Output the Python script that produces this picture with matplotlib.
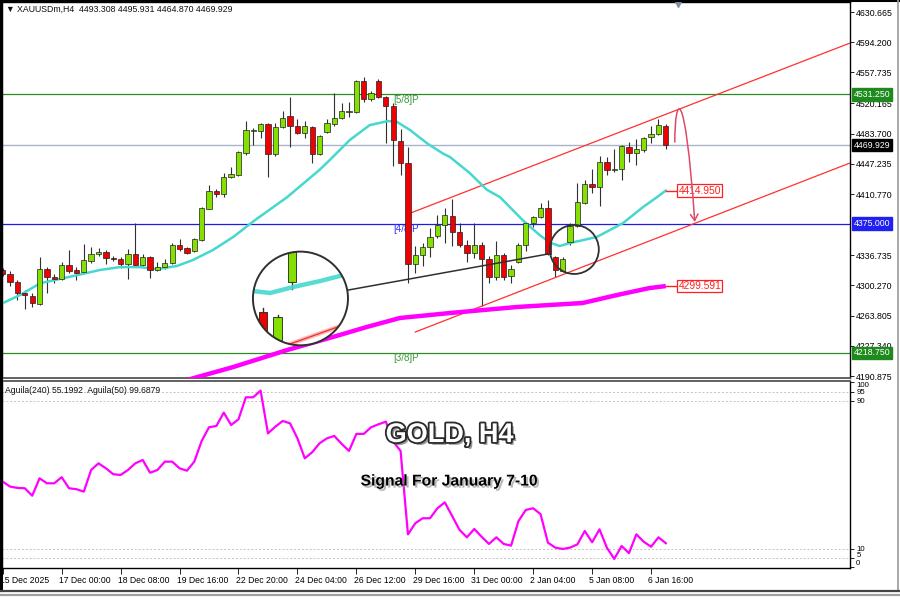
import numpy as np
import matplotlib
matplotlib.use('Agg')
import matplotlib.pyplot as plt
import matplotlib.patheffects as pe
import matplotlib.transforms as mtransforms
from matplotlib.patches import Rectangle, Ellipse, FancyArrowPatch
from matplotlib.path import Path
from matplotlib.lines import Line2D

plt.rcParams['font.family'] = ['Liberation Sans', 'DejaVu Sans']

# ---- H4 candles ----
opens = [4318.9, 4314.1, 4304.5, 4291.2, 4287.6, 4277.9, 4320.2, 4310.5, 4308.1, 4325.0,
         4318.9, 4316.5, 4329.9, 4338.3, 4340.7, 4333.5, 4332.3, 4326.2, 4338.3, 4325.0,
         4334.7, 4318.9, 4322.6, 4327.4, 4349.2, 4345.6, 4341.9, 4355.2, 4392.7, 4414.4,
         4410.8, 4431.3, 4433.7, 4460.3, 4486.9, 4486.9, 4495.4, 4459.1, 4491.8, 4505.0,
         4492.9, 4484.5, 4491.8, 4459.1, 4485.7, 4495.4, 4502.6, 4509.9, 4509.9, 4547.3,
         4525.6, 4547.3, 4528.0, 4517.1, 4474.8, 4448.2, 4326.2, 4337.1, 4346.8, 4360.1,
         4373.4, 4384.2, 4364.9, 4349.2, 4339.5, 4349.2, 4332.3, 4310.5, 4337.1, 4311.7,
         4328.6, 4349.2, 4375.7, 4383.0, 4393.9, 4334.7, 4317.7, 4352.8, 4372.1, 4399.9,
         4422.9, 4419.3, 4449.5, 4439.8, 4441.0, 4467.6, 4460.3, 4464.0, 4479.7, 4483.3,
         4493.308]
highs = [4321.4, 4317.7, 4306.9, 4294.8, 4291.2, 4334.7, 4322.6, 4314.1, 4328.6, 4343.1,
         4322.6, 4350.4, 4346.8, 4345.6, 4343.1, 4335.9, 4334.7, 4344.4, 4375.7, 4338.3,
         4335.9, 4328.6, 4332.3, 4351.6, 4356.4, 4346.8, 4357.6, 4395.1, 4421.7, 4416.8,
         4436.2, 4443.4, 4462.5, 4499.0, 4490.5, 4496.6, 4496.6, 4496.6, 4511.1, 4528.0,
         4501.4, 4499.0, 4492.9, 4482.1, 4501.4, 4532.8, 4520.7, 4521.9, 4548.5, 4552.2,
         4535.2, 4549.8, 4529.2, 4520.7, 4489.3, 4467.6, 4347.9, 4351.6, 4369.7, 4385.4,
         4393.9, 4404.8, 4375.7, 4355.2, 4375.7, 4352.8, 4335.9, 4354.0, 4339.5, 4325.0,
         4351.6, 4376.5, 4384.2, 4399.9, 4403.5, 4335.9, 4334.7, 4375.7, 4424.1, 4427.7,
         4441.0, 4456.7, 4455.5, 4465.2, 4470.0, 4473.6, 4477.3, 4479.7, 4492.9, 4501.4,
         4495.931]
lows = [4311.7, 4299.6, 4282.7, 4271.8, 4274.3, 4276.5, 4291.2, 4303.3, 4306.9, 4315.3,
        4306.9, 4315.3, 4327.4, 4335.9, 4326.2, 4329.9, 4321.4, 4308.1, 4322.6, 4323.8,
        4309.3, 4317.7, 4320.2, 4326.8, 4341.9, 4338.3, 4340.7, 4354.0, 4392.1, 4407.2,
        4407.2, 4430.1, 4432.5, 4457.9, 4470.0, 4478.5, 4431.3, 4456.7, 4490.5, 4467.6,
        4483.3, 4478.5, 4448.3, 4457.9, 4484.5, 4492.9, 4501.4, 4503.8, 4508.7, 4522.0,
        4523.2, 4526.8, 4472.4, 4444.6, 4433.7, 4303.3, 4315.3, 4323.8, 4334.7, 4357.6,
        4351.6, 4348.0, 4346.8, 4328.6, 4333.5, 4275.5, 4303.3, 4306.9, 4306.9, 4303.3,
        4327.4, 4341.9, 4370.9, 4382.4, 4337.1, 4310.5, 4316.5, 4349.2, 4370.9, 4399.3,
        4412.0, 4396.3, 4433.7, 4437.4, 4427.7, 4449.5, 4445.9, 4461.6, 4472.4, 4482.1,
        4464.870]
closes = [4314.1, 4304.5, 4291.2, 4288.8, 4279.1, 4320.2, 4310.5, 4308.1, 4325.0, 4317.7,
          4315.3, 4331.0, 4338.3, 4340.7, 4333.5, 4331.7, 4326.2, 4338.3, 4325.0, 4334.7,
          4318.9, 4322.6, 4327.4, 4349.2, 4344.4, 4339.5, 4356.4, 4393.9, 4414.4, 4410.8,
          4431.3, 4434.9, 4461.6, 4488.1, 4488.1, 4495.4, 4459.1, 4491.8, 4502.6, 4492.9,
          4484.5, 4492.9, 4459.1, 4480.9, 4496.6, 4502.6, 4511.1, 4511.1, 4547.3, 4525.6,
          4532.8, 4528.0, 4517.1, 4476.0, 4448.2, 4326.2, 4337.1, 4346.8, 4358.8, 4373.4,
          4385.4, 4364.9, 4349.2, 4339.5, 4349.2, 4332.3, 4310.5, 4337.1, 4310.5, 4320.2,
          4349.2, 4375.7, 4383.0, 4393.9, 4338.3, 4318.9, 4332.3, 4372.1, 4401.1, 4422.9,
          4419.3, 4449.5, 4439.8, 4441.0, 4468.8, 4460.3, 4465.2, 4478.5, 4483.3, 4494.2,
          4469.929]

# moving averages (bar position, value)
ma_fast_x = [0, 2.4, 5.1, 8.7, 13.2, 15.9, 18.6, 21, 23.7, 25.8, 28.5, 31.3, 34.2, 38.6,
             43, 44.4, 47.1, 49.8, 52.3, 53.5, 55.3, 57.6, 59.7, 60.7, 63.4, 65.7, 67.5,
             70.6, 72.9, 74.3, 75.6, 77, 80.6, 84.2, 86.9, 88.8, 90]
ma_fast_y = [4279, 4289, 4303, 4310, 4319, 4322.5, 4322.5, 4320, 4324, 4331, 4343, 4359,
             4379, 4407, 4440, 4452, 4476, 4494, 4499, 4498, 4488, 4472, 4460, 4455.5,
             4436, 4416, 4407, 4379, 4361, 4352, 4348, 4351.6, 4358.8, 4375.7, 4395,
             4407, 4414.95]
ma_slow_x = [22.7, 25, 31.3, 38.6, 44.8, 49.4, 53.9, 60.7, 69.8, 78.7, 83.4, 87.8, 90]
ma_slow_y = [4180, 4186.1, 4201.8, 4222.3, 4238, 4250.1, 4261, 4267, 4274.3, 4279.1,
             4288.8, 4297.2, 4299.591]

# Aguila oscillator, one value per bar
aguila = [46.4, 43.7, 43.0, 42.8, 38.8, 48.2, 45.5, 45.5, 48.8, 42.8,
          42.3, 41.0, 52.7, 56.3, 53.6, 50.4, 50.0, 52.7, 56.3, 58.1,
          51.2, 52.7, 57.2, 57.2, 53.6, 52.3, 57.2, 68.4, 75.8, 76.5,
          83.7, 77.0, 80.1, 92.0, 92.0, 95.6, 72.5, 76.1, 79.2, 77.9,
          69.8, 59.0, 62.3, 67.1, 69.8, 71.1, 66.8, 63.0, 72.2, 72.2,
          75.8, 77.4, 78.8, 68.0, 63.0, 17.9, 23.9, 26.6, 26.6, 32.0,
          35.2, 27.8, 20.3, 16.3, 20.8, 16.6, 12.7, 16.3, 12.7, 11.8,
          25.1, 31.1, 32.0, 28.8, 13.4, 10.7, 10.0, 10.7, 12.5, 19.7,
          13.6, 20.6, 10.7, 4.6, 11.6, 7.7, 17.9, 13.9, 11.2, 16.3, 13.1]

price_ticks = [4630.665, 4594.200, 4557.735, 4520.165, 4483.700, 4447.235, 4410.770,
               4336.735, 4300.270, 4263.805, 4227.340, 4190.875]
date_pos = [0, 8, 16, 24, 32, 40, 48, 56, 64, 72, 80, 88]
date_labels = ['15 Dec 2025', '17 Dec 00:00', '18 Dec 08:00', '19 Dec 16:00',
               '22 Dec 20:00', '24 Dec 04:00', '26 Dec 12:00', '29 Dec 16:00',
               '31 Dec 00:00', '2 Jan 04:00', '5 Jan 08:00', '6 Jan 16:00']

# Murrey levels and channel
lvl_58, lvl_48, lvl_38 = 4531.25, 4375.0, 4218.75
last_price = 4469.929
chan_up = ([55, 115], [4386.6, 4593.2])
chan_lo = ([56, 115], [4244.1, 4448.3])

GREEN = '#84E000'
RED = '#F00000'
CYAN = '#45D8CF'
MAGENTA = '#FF00FF'

W, H = 900, 599
fig = plt.figure(figsize=(9, 5.99), dpi=100)


def px_box(x0, y0, x1, y1):
    return [x0 / W, 1 - y1 / H, (x1 - x0) / W, (y1 - y0) / H]


ax = fig.add_axes(px_box(2, 2, 850, 378))
ax2 = fig.add_axes(px_box(2, 381, 850, 568), sharex=ax)

o, h, l, c = map(np.array, (opens, highs, lows, closes))
idx = np.arange(len(c))
up = c >= o

# candles
ax.vlines(idx, l, h, color='#303030', lw=0.8, zorder=3)
body = np.maximum(np.abs(c - o), 0.6)
ax.bar(idx, body, bottom=np.minimum(o, c), width=0.72,
       color=np.where(up, GREEN, RED), edgecolor='#202020', linewidth=0.5, zorder=4)

# MAs
ax.plot(ma_fast_x, ma_fast_y, color=CYAN, lw=1.8, zorder=3.5)
ax.plot(ma_slow_x, ma_slow_y, color=MAGENTA, lw=3.2, zorder=3.5, solid_capstyle='butt')

# horizontal levels
ax.axhline(lvl_58, color='#2E8B22', lw=0.9, zorder=2)
ax.axhline(last_price, color='#A9B4C8', lw=1.0, zorder=2)
ax.axhline(lvl_48, color='#1C1CE8', lw=0.9, zorder=2)
ax.axhline(lvl_38, color='#2E8B22', lw=0.9, zorder=2)
ax.text(53, 4524.4, '[5/8]P', color='#3A9A3A', fontsize=7, va='center', zorder=2)
ax.text(53, 4368.5, '[4/8]P', color='#3030FF', fontsize=7, va='center', zorder=2)
ax.text(53, 4212.5, '[3/8]P', color='#3A9A3A', fontsize=7, va='center', zorder=2)

# channel
ax.plot(*chan_up, color='#FF3030', lw=0.9, zorder=3)
ax.plot(*chan_lo, color='#FF3030', lw=0.9, zorder=3)

# line-end labels
for val, txt in [(ma_fast_y[-1], '4414.950'), (ma_slow_y[-1], '4299.591')]:
    ax.plot([90, 91.6], [val, val], color='#FF2020', lw=1.0, zorder=5)
    ax.text(91.7, val, txt, color='#FF2020', fontsize=7.4, va='center', ha='left', zorder=6,
            bbox=dict(boxstyle='square,pad=0.12', fc='white', ec='#FF2020', lw=0.9))

# curved arrow
arc = Path([(91.22, 4473.6), (91.22, 4530.4), (92.58, 4548.5), (93.93, 4377.0)],
           [Path.MOVETO, Path.CURVE4, Path.CURVE4, Path.CURVE4])
ax.add_patch(FancyArrowPatch(path=arc, arrowstyle='->,head_length=0.5,head_width=0.3',
                             mutation_scale=9, color='#E04A68', lw=1.1, zorder=7))

# magnifier
big = Ellipse((40.41, 4284.6), 12.9, 113.2, fc='white', ec='none', zorder=6)
ax.add_patch(big)
inner = []
inner.append(ax.add_patch(Rectangle((39.25 - 0.55, 4304.5), 1.1, 60, fc=GREEN, ec='#202020', lw=0.6, zorder=7)))
inner += ax.plot([39.25, 39.25], [4296.0, 4304.5], color='#303030', lw=1.0, zorder=7)
inner.append(ax.add_patch(Rectangle((35.3 - 0.55, 4245.3), 1.1, 22.9, fc=RED, ec='#202020', lw=0.6, zorder=7)))
inner += ax.plot([35.3, 35.3], [4268.2, 4273.1], color='#303030', lw=1.0, zorder=7)
inner.append(ax.add_patch(Rectangle((37.3 - 0.55, 4234.4), 1.1, 27.8, fc=GREEN, ec='#202020', lw=0.6, zorder=7)))
inner += ax.plot([37.3, 37.3], [4262.2, 4264.6], color='#303030', lw=1.0, zorder=7)
inner += ax.plot([34.0, 36.3, 39.4, 43.1, 47.0], [4293.5, 4291.2, 4298.4, 4305.7, 4314.6],
                 color=CYAN, lw=3.2, zorder=7, alpha=0.9)
inner += ax.plot([39.0, 45.6], [4229.6, 4250.6], color='#FFB4B4', lw=3, zorder=7)
inner += ax.plot([39.0, 45.6], [4229.6, 4250.6], color='#F03030', lw=0.9, zorder=7)
for art in inner:
    art.set_clip_path(big)
ax.add_patch(Ellipse((40.41, 4284.6), 12.9, 113.2, fill=False, ec='#303030', lw=1.4, zorder=8))
ax.plot([46.9, 74.0], [4294.8, 4338.3], color='#303030', lw=1.1, zorder=5)
ax.add_patch(Ellipse((77.58, 4343.8), 6.65, 59.2, fill=False, ec='#303030', lw=1.3, zorder=8))

ax.text(0.005, 0.981, '\u25bc XAUUSDm,H4  4493.308 4495.931 4464.870 4469.929',
        transform=ax.transAxes, fontsize=6.3, va='center', ha='left', color='#111')
ax.plot([91.6], [4640.5], marker='v', ms=5, color='#8090A0', clip_on=False, zorder=9)

# axes ranges / ticks
ax.set_xlim(-0.1, 115)
ax.set_ylim(4188.5, 4642.8)
ax.yaxis.tick_right()
ax.set_yticks(price_ticks)
ax.set_yticklabels([f'{v:.3f}' for v in price_ticks])
ax.tick_params(axis='y', length=3, width=0.6, pad=1.5, labelsize=6.3, direction='out')
ax.tick_params(axis='x', bottom=False, labelbottom=False)
for s in ['top', 'left', 'right']:
    ax.spines[s].set_color('black')
    ax.spines[s].set_linewidth(1.0)
ax.spines['bottom'].set_color('#555')
ax.spines['bottom'].set_linewidth(1.3)

tag_tf = mtransforms.blended_transform_factory(ax.transAxes, ax.transData)
for val, bg in [(lvl_58, '#1E8A1E'), (last_price, 'black'), (lvl_48, '#2020F0'), (lvl_38, '#1E8A1E')]:
    ax.text(1.004, val, f'{val:.3f}', transform=tag_tf, ha='left', va='center', fontsize=6.3,
            color='white', clip_on=False, zorder=10,
            bbox=dict(boxstyle='square,pad=0.2', fc=bg, ec=bg))

# indicator panel
for v in [95, 90, 10, 5]:
    ax2.axhline(v, color='#C4C4C4', lw=0.7, ls=(0, (2, 2)), zorder=1)
ax2.plot(idx, aguila, color=MAGENTA, lw=1.6, zorder=3)
ax2.set_ylim(-0.3, 100.8)
ax2.yaxis.tick_right()
ax2.set_yticks([100, 95, 90, 10, 5, 0])
ax2.set_yticklabels(['100', '95', '90', '10', '5', '0'])
ax2.tick_params(axis='y', length=3, width=0.6, pad=1.5, labelsize=5.6, direction='out')
ylabs = ax2.get_yticklabels()
ylabs[0].set_va('top')
up2 = mtransforms.ScaledTranslation(0, 2.5 / 72, fig.dpi_scale_trans)
ylabs[-1].set_transform(ylabs[-1].get_transform() + up2)
ylabs[-1].set_va('center')
ylabs[-2].set_transform(ylabs[-2].get_transform() + up2)
ax2.set_xticks(date_pos)
ax2.set_xticklabels(date_labels)
ax2.tick_params(axis='x', length=4, width=0.6, pad=1.5, labelsize=6.2, direction='out')
shift = mtransforms.ScaledTranslation(-2 / 72, 0, fig.dpi_scale_trans)
for lbl in ax2.get_xticklabels():
    lbl.set_horizontalalignment('left')
    lbl.set_transform(lbl.get_transform() + shift)
for s in ['bottom', 'left', 'right']:
    ax2.spines[s].set_color('black')
    ax2.spines[s].set_linewidth(1.0)
ax2.spines['top'].set_color('#555')
ax2.spines['top'].set_linewidth(1.3)

ax2.text(0.004, 0.975, 'Aguila(240) 55.1992  Aguila(50) 99.6879', transform=ax2.transAxes,
         fontsize=6.2, va='top', ha='left', color='#111')

ax2.text(0.528, 0.711, 'GOLD, H4', transform=ax2.transAxes, ha='center', va='center',
         fontsize=19.5, fontweight='bold', color='white', zorder=10,
         path_effects=[pe.SimplePatchShadow(offset=(2, -2), shadow_rgbFace='#555', alpha=0.6),
                       pe.Stroke(linewidth=2.6, foreground='#2a2a2a'), pe.Normal()])
ax2.text(0.528, 0.465, 'Signal For January 7-10', transform=ax2.transAxes, ha='center',
         va='center', fontsize=11.3, fontweight='bold', color='black', zorder=10,
         path_effects=[pe.SimplePatchShadow(offset=(1.5, -1.5), shadow_rgbFace='#888', alpha=0.6),
                       pe.Normal()])

# window frame
fig.add_artist(Line2D([0.5 / W, 0.5 / W], [1, 1 - 590 / H], color='black', lw=2.2))
fig.add_artist(Line2D([0, 1], [1 - 0.5 / H, 1 - 0.5 / H], color='black', lw=1.5))
fig.add_artist(Line2D([897.5 / W, 897.5 / W], [1, 1 - 590 / H], color='#9A9A9A', lw=1.2))
fig.add_artist(Line2D([0, 1], [1 - 591 / H, 1 - 591 / H], color='#444', lw=1.6))
fig.add_artist(Line2D([0, 1], [1 - 595 / H, 1 - 595 / H], color='#A0A0A0', lw=1.6))

fig.savefig('out.png', dpi=100)
